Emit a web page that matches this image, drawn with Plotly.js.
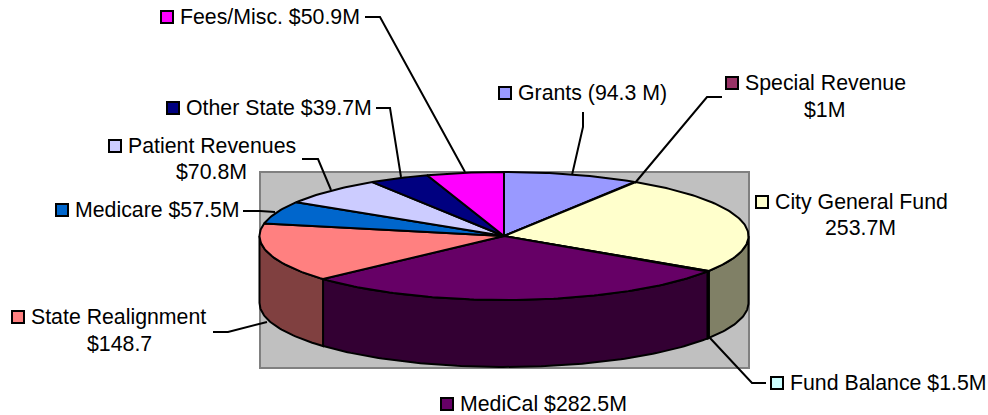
<!DOCTYPE html>
<html>
<head>
<meta charset="utf-8">
<script src="https://cdn.plot.ly/plotly-3.0.1.min.js"></script>
<style>html,body{margin:0;padding:0;background:#fff}#chart{width:988px;height:415px}</style>
</head>
<body>
<div id="chart"></div>
<script>
// ---- data, clockwise from 12 o'clock ----
var categories = ["Grants","Special Revenue","City General Fund","Fund Balance","MediCal","State Realignment","Medicare","Patient Revenues","Other State","Fees/Misc."];
var values = [94.3,1,253.7,1.5,282.5,148.7,57.5,70.8,39.7,50.9];
var topColors = ["#9999FF","#993366","#FFFFCC","#CCFFFF","#660066","#FF8080","#0066CC","#CCCCFF","#000080","#FF00FF"];
var wallColors = ["#4D4D80","#4D1A33","#808066","#668080","#330033","#804040","#003366","#666680","#000040","#800080"];
var labelLine1 = ["Grants (94.3 M)","Special Revenue","City General Fund","Fund Balance $1.5M","MediCal $282.5M","State Realignment","Medicare $57.5M","Patient Revenues","Other State $39.7M","Fees/Misc. $50.9M"];
var labelLine2 = ["","$1M","253.7M","","","$148.7","","$70.8M","",""];

// ---- layout of the picture (pixels of the 988x415 axis space) ----
var pie = {cx:504, cy:236, rx:244.5, ry:64, depth:67, skew:3};
var frame = {x0:260, x1:749, y0:172, y1:368};
var keyPos = [[505,93],[732,83],[762,202],[777,383],[447,404],[18,317],[62,210],[115,146],[173,108],[167,17]];
var line2Pos = [null,[824,110],[860,228],null,null,[119,344],null,[211,172],null,null];
var leaders = [
  [[583,112],[583,127],[572,175]],
  [[722,97],[707,97],[635,183]],
  null,
  [[710,338],[752,383],[766,383]],
  null,
  [[213,332],[228,332],[267,322]],
  [[243,211],[260,211],[275,212]],
  [[302,159],[318,159],[331,190]],
  [[376,108],[390,108],[401,177]],
  [[365,17],[380,17],[465,172]]
];
var fontFamily = '"Liberation Sans", Arial, sans-serif';
var fontSize = 21.3;

// ---- geometry through the plot's own axes ----
function warp(deg){ return deg - pie.skew*Math.max(Math.sin(deg*Math.PI/180),0); }
function px(deg){ return pie.cx + pie.rx*Math.sin(deg*Math.PI/180); }
function py(deg,drop){ return pie.cy - pie.ry*Math.cos(deg*Math.PI/180) + (drop||0); }
function arc(a0,a1){ var r=[],n=Math.max(2,Math.ceil(Math.abs(a1-a0))); for(var i=0;i<=n;i++) r.push(a0+(a1-a0)*i/n); return r; }

var total = values.reduce(function(a,b){return a+b;},0);
var angles = [0];
values.forEach(function(v,i){ angles.push(angles[i]+v/total*360); });
angles = angles.map(warp);

var traces = [];
// front walls
values.forEach(function(v,i){
  var a0=Math.max(angles[i],90), a1=Math.min(angles[i+1],270);
  if(a1<=a0) return;
  var top=arc(a0,a1), bot=arc(a1,a0);
  traces.push({type:'scatter',mode:'lines',fill:'toself',fillcolor:wallColors[i],
    x:top.map(function(a){return px(a);}).concat(bot.map(function(a){return px(a);}),[px(a0)]),
    y:top.map(function(a){return py(a);}).concat(bot.map(function(a){return py(a,pie.depth);}),[py(a0)]),
    line:{color:'#000',width:2},name:categories[i],hoverinfo:'skip'});
});
// top faces
values.forEach(function(v,i){
  var t=arc(angles[i],angles[i+1]);
  traces.push({type:'scatter',mode:'lines',fill:'toself',fillcolor:topColors[i],
    x:[pie.cx].concat(t.map(function(a){return px(a);}),[pie.cx]),
    y:[pie.cy].concat(t.map(function(a){return py(a);}),[pie.cy]),
    line:{color:'#000',width:2,join:'miter'},name:categories[i],hoverinfo:'skip'});
});
// leader lines
leaders.forEach(function(l,i){
  if(!l) return;
  traces.push({type:'scatter',mode:'lines',x:l.map(function(p){return p[0];}),y:l.map(function(p){return p[1];}),
    line:{color:'#000',width:2},hoverinfo:'skip'});
});
// legend keys
traces.push({type:'scatter',mode:'markers',
  x:keyPos.map(function(p){return p[0];}),y:keyPos.map(function(p){return p[1];}),
  marker:{symbol:'square',size:12,color:topColors,line:{color:'#000',width:2}},hoverinfo:'skip'});

var annotations=[];
function note(text,x,y,anchor){
  annotations.push({text:text,x:x,y:y,xref:'x',yref:'y',showarrow:false,xanchor:anchor,yanchor:'middle',
    borderpad:0,font:{family:fontFamily,size:fontSize,color:'#000'}});
}
labelLine1.forEach(function(t,i){ note(t,keyPos[i][0]+11.5,keyPos[i][1],'left'); });
labelLine2.forEach(function(t,i){ if(t) note(t,line2Pos[i][0],line2Pos[i][1],'center'); });

var layout={
  width:988,height:415,margin:{l:0,r:0,t:0,b:0},showlegend:false,hovermode:false,
  paper_bgcolor:'#fff',plot_bgcolor:'#fff',
  xaxis:{range:[0,988],visible:false,fixedrange:true},
  yaxis:{range:[415,0],visible:false,fixedrange:true},
  shapes:[{type:'rect',layer:'below',xref:'x',yref:'y',x0:frame.x0,x1:frame.x1,y0:frame.y0,y1:frame.y1,
    fillcolor:'#C0C0C0',line:{color:'#808080',width:2}}],
  annotations:annotations
};
Plotly.newPlot('chart',traces,layout,{displayModeBar:false,staticPlot:true});
</script>
</body>
</html>
